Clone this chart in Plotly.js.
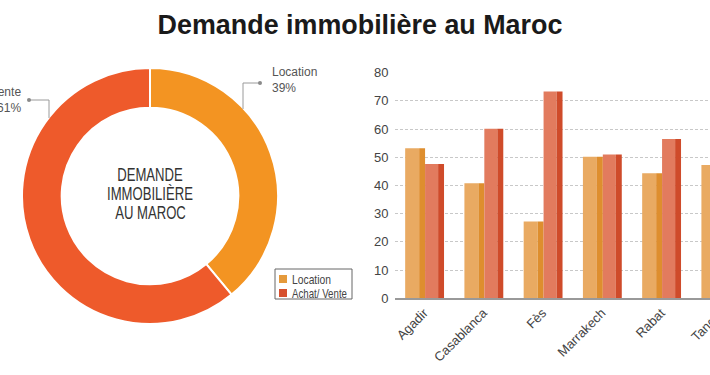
<!DOCTYPE html>
<html>
<head>
<meta charset="utf-8">
<script src="https://cdn.plot.ly/plotly-3.0.1.min.js"></script>
<style>
html,body{margin:0;padding:0;overflow:hidden;background:#fff;width:710px;height:375px;}
#chart{width:770px;height:375px;}
</style>
</head>
<body>
<div id="chart"></div>
<script>
// ---- data ----
const chartTitle = 'Demande immobilière au Maroc';
const centerText = ['DEMANDE', 'IMMOBILIÈRE', 'AU MAROC'];
const pieLabels = ['Location', 'Achat/ Vente'];
const pieValues = [39, 61];
const cities = ['Agadir', 'Casablanca', 'Fès', 'Marrakech', 'Rabat', 'Tanger'];
const locationVals = [53.2, 40.8, 27.2, 50.2, 44.3, 47.3];
const achatVals = [47.6, 60.1, 73.3, 51.0, 56.5, 52.7];

// ---- layout helpers ----
const W = 770, H = 375;
const px = x => x / W;
const py = y => 1 - y / H;
const SANS = 'Liberation Sans, Arial, sans-serif';

const pieColors = ['#F39422', '#EE5A2B'];
const locFront = '#E9AA62', locSide = '#DE8E2E';
const achFront = '#E27B5E', achSide = '#CF4B2A';

const pie = {
  type: 'pie', labels: pieLabels, values: pieValues,
  hole: 0.69, sort: false, direction: 'clockwise', rotation: 0,
  marker: {colors: pieColors, line: {color: '#ffffff', width: 2}},
  textinfo: 'none', hoverinfo: 'none', showlegend: false,
  domain: {x: [px(150 - 128), px(150 + 128)], y: [py(196 + 128), py(196 - 128)]}
};

function bar(vals, off, wid, color) {
  return {type: 'bar', x: cities, y: vals, offset: off, width: wid,
    marker: {color: color, line: {width: 0}}, hoverinfo: 'none', showlegend: false,
    xaxis: 'x', yaxis: 'y'};
}
const traces = [
  pie,
  bar(locationVals, -0.32, 0.236, locFront),
  bar(locationVals, -0.084, 0.1, locSide),
  bar(achatVals, 0.016, 0.22, achFront),
  bar(achatVals, 0.236, 0.1, achSide)
];

const shapes = [
  {type: 'path', xref: 'paper', yref: 'paper',
   path: `M ${px(29)} ${py(100)} L ${px(49)} ${py(100)} L ${px(49)} ${py(118)}`,
   line: {color: '#9a9a9a', width: 1}},
  {type: 'path', xref: 'paper', yref: 'paper',
   path: `M ${px(260)} ${py(83)} L ${px(243)} ${py(83)} L ${px(243)} ${py(109)}`,
   line: {color: '#9a9a9a', width: 1}},
  {type: 'circle', xref: 'paper', yref: 'paper', x0: px(27), x1: px(31), y0: py(102), y1: py(98),
   fillcolor: '#8a8a8a', line: {width: 0}},
  {type: 'circle', xref: 'paper', yref: 'paper', x0: px(258), x1: px(262), y0: py(85), y1: py(81),
   fillcolor: '#8a8a8a', line: {width: 0}},
  {type: 'rect', xref: 'paper', yref: 'paper', x0: px(275), x1: px(352), y0: py(299), y1: py(269),
   line: {color: '#666', width: 1}, fillcolor: 'rgba(0,0,0,0)'},
  {type: 'rect', xref: 'paper', yref: 'paper', x0: px(279), x1: px(287), y0: py(283), y1: py(275),
   line: {width: 0}, fillcolor: '#E59A3C'},
  {type: 'rect', xref: 'paper', yref: 'paper', x0: px(279), x1: px(287), y0: py(297), y1: py(289),
   line: {width: 0}, fillcolor: '#D6502E'}
];

const centerY = [175, 194, 213];
const annotations = centerText.map((t, i) => ({
  text: t, xref: 'paper', yref: 'paper', x: px(150), y: py(centerY[i]),
  xanchor: 'center', yanchor: 'middle', showarrow: false,
  font: {family: SANS, size: 18, color: '#333'}
})).concat([
  {text: pieLabels[0] + '<br>' + pieValues[0] + '%', xref: 'paper', yref: 'paper', x: px(270), y: py(80),
   xanchor: 'left', yanchor: 'middle', align: 'left', showarrow: false,
   font: {family: SANS, size: 12, color: '#555'}},
  {text: pieLabels[1] + '<br>' + pieValues[1] + '%', xref: 'paper', yref: 'paper', x: px(23), y: py(100),
   xanchor: 'right', yanchor: 'middle', align: 'right', showarrow: false,
   font: {family: SANS, size: 12, color: '#555'}},
  {text: pieLabels[0], xref: 'paper', yref: 'paper', x: px(290), y: py(279),
   xanchor: 'left', yanchor: 'middle', showarrow: false,
   font: {family: SANS, size: 13, color: '#444'}},
  {text: pieLabels[1], xref: 'paper', yref: 'paper', x: px(290), y: py(293),
   xanchor: 'left', yanchor: 'middle', showarrow: false,
   font: {family: SANS, size: 13, color: '#444'}}
]);

const layout = {
  width: W, height: H,
  margin: {l: 0, r: 0, t: 0, b: 0},
  paper_bgcolor: '#ffffff', plot_bgcolor: 'rgba(0,0,0,0)',
  title: {text: chartTitle, x: px(360), xanchor: 'center', y: py(24), yanchor: 'middle',
          font: {family: SANS, size: 28, color: '#1a1a1a', weight: 700}},
  barmode: 'overlay',
  xaxis: {domain: [px(394.5), px(750)], type: 'category', range: [-0.5, 5.5],
          showgrid: false, zeroline: false, showline: true, linecolor: '#999', linewidth: 2,
          ticks: '', tickangle: -45, tickfont: {family: SANS, size: 13, color: '#444'}},
  yaxis: {domain: [1 - 298.3 / H, 1 - 72.7 / H], range: [0, 80], dtick: 10,
          showgrid: true, gridcolor: '#c8c8c8', griddash: '3px,2px', gridwidth: 1,
          zeroline: false, showline: false, ticks: '', ticklabelstandoff: 5,
          tickfont: {family: SANS, size: 13, color: '#444'}},
  shapes: shapes, annotations: annotations,
  showlegend: false
};

// condense text (no narrow font installed): scale horizontally to the reference widths
function condense(el, target, origin) {
  if (!el) return 1;
  const w = el.getBBox().width;
  if (!w) return 1;
  const s = Math.min(1, target / w);
  el.style.transformBox = 'fill-box';
  el.style.transformOrigin = origin;
  el.style.transform = `scaleX(${s})`;
  return s;
}

Plotly.newPlot('chart', traces, layout, {displayModeBar: false, staticPlot: true}).then(() => {
  condense(document.querySelector('#chart .gtitle'), 405, 'center');
  const ann = i => document.querySelector(`#chart .annotation[data-index="${i}"] text`);
  const el1 = ann(1);
  const s = el1 ? Math.min(1, 86 / el1.getBBox().width) : 1;
  [0, 1, 2].forEach(i => {
    const el = ann(i);
    if (!el) return;
    el.style.transformBox = 'fill-box';
    el.style.transformOrigin = 'center';
    el.style.transform = `scaleX(${s})`;
  });
  condense(ann(5), 39, 'left center');
  condense(ann(6), 55, 'left center');
});
</script>
</body>
</html>
